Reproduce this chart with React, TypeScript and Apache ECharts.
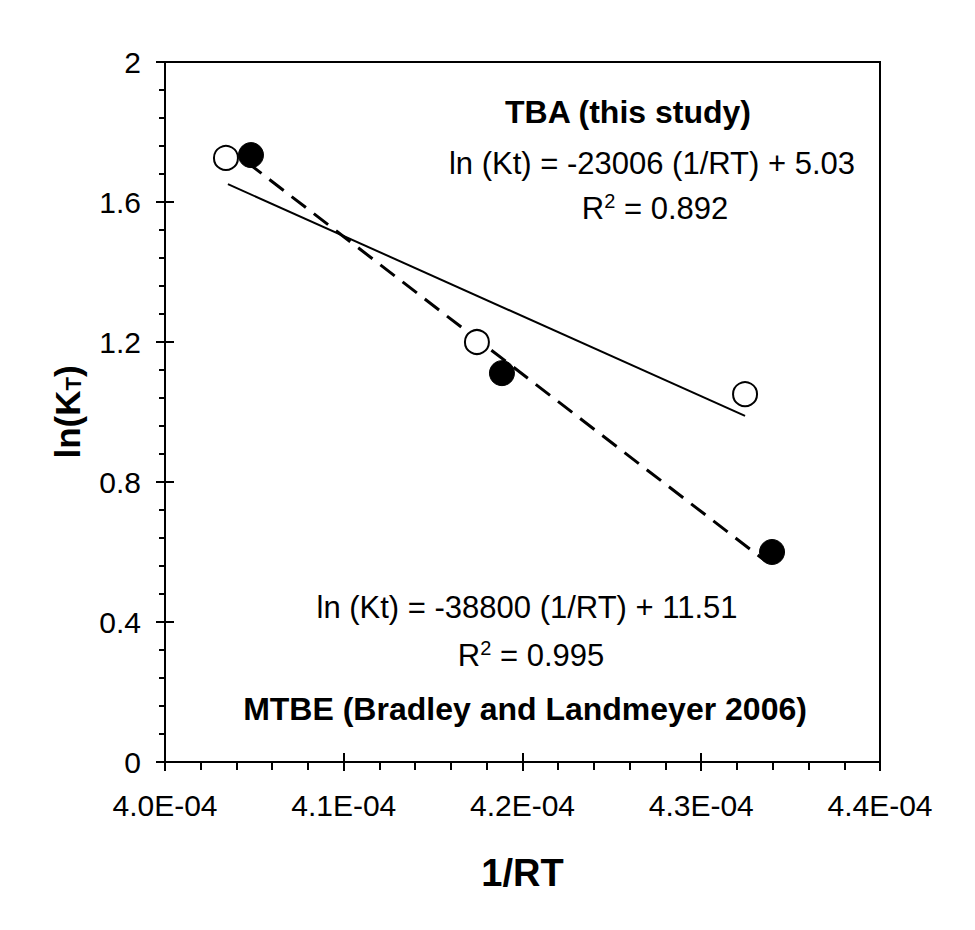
import React, { useEffect, useRef } from "react";
import * as echarts from "echarts";

// Observed points (1/RT, ln(KT))
const tbaX = [4.0341e-4, 4.1745e-4, 4.3245e-4];
const tbaY = [1.726, 1.2, 1.051];
const mtbeX = [4.0481e-4, 4.1885e-4, 4.3396e-4];
const mtbeY = [1.734, 1.111, 0.6];

// Trend line end points as drawn
const tbaFitX = [4.0352e-4, 4.3245e-4];
const tbaFitY = [1.651, 0.989];
const mtbeFitX = [4.046e-4, 4.336e-4];
const mtbeFitY = [1.713, 0.574];

const tbaTitle = "TBA (this study)";
const tbaEq = "ln (Kt) = -23006 (1/RT) + 5.03";
const tbaR2 = "0.892";
const mtbeEq = "ln (Kt) = -38800 (1/RT) + 11.51";
const mtbeR2 = "0.995";
const mtbeTitle = "MTBE (Bradley and Landmeyer 2006)";

const FONT = "'Liberation Sans', Arial, sans-serif";

const zip = (xs: number[], ys: number[]) => xs.map((x, i) => [x, ys[i]]);

const fmtX = (v: number) => {
  const s = v.toExponential(1).toUpperCase(); // e.g. 4.1E-4
  const m = s.match(/^([\d.]+)E([+-])(\d+)$/);
  if (!m) return s;
  return `${m[1]}E${m[2]}${m[3].padStart(2, "0")}`;
};

export default function App() {
  const ref = useRef<HTMLDivElement>(null);
  useEffect(() => {
    if (!ref.current) return;
    const chart = echarts.init(ref.current, undefined, { renderer: "svg" });
    const left = 165, top = 62, width = 715, height = 700;
    const xBase = { type: "value" as const, min: 4.0e-4, max: 4.4e-4, interval: 1e-5, splitLine: { show: false } };
    const yBase = { type: "value" as const, min: 0, max: 2, interval: 0.4, splitLine: { show: false } };
    const supRich = {
      sup: { fontSize: 20, fontFamily: FONT, fill: "#000", color: "#000", padding: [0, 0, 14, 0] },
    };
    const txt = (text: string, x: number, y: number, bold: boolean, size: number) => ({
      type: "text",
      x,
      y,
      style: {
        text,
        fill: "#000",
        font: `${bold ? "bold " : ""}${size}px ${FONT}`,
        align: "center",
        verticalAlign: "middle",
        rich: supRich,
      },
    });
    chart.setOption({
      animation: false,
      backgroundColor: "#fff",
      grid: {
        left,
        top,
        width,
        height,
        show: true,
        borderColor: "#000",
        borderWidth: 2,
        backgroundColor: "transparent",
      },
      xAxis: [
        {
          ...xBase,
          position: "bottom",
          axisLine: { show: true, lineStyle: { color: "#000", width: 2 } },
          axisTick: { show: true, inside: false, length: 9, lineStyle: { color: "#000", width: 2 } },
          minorTick: { show: true, splitNumber: 5, length: 8, lineStyle: { color: "#000", width: 2 } },
          axisLabel: { color: "#000", fontSize: 30, fontFamily: FONT, margin: 28, formatter: fmtX },
          name: "1/RT",
          nameLocation: "middle",
          nameGap: 92,
          nameTextStyle: { color: "#000", fontSize: 38, fontWeight: "bold", fontFamily: FONT },
        },
        {
          ...xBase,
          position: "bottom",
          axisLine: { show: false },
          axisTick: { show: true, inside: true, length: 9, lineStyle: { color: "#000", width: 2 } },
          axisLabel: { show: false },
        },
      ],
      yAxis: [
        {
          ...yBase,
          position: "left",
          axisLine: { show: true, lineStyle: { color: "#000", width: 2 } },
          axisTick: { show: true, inside: false, length: 9, lineStyle: { color: "#000", width: 2 } },
          minorTick: { show: true, splitNumber: 5, length: 6, lineStyle: { color: "#000", width: 2 } },
          axisLabel: { color: "#000", fontSize: 30, fontFamily: FONT, margin: 24 },
          name: "ln(K{sub|T})",
          nameLocation: "middle",
          nameGap: 80,
          nameRotate: 90,
          nameTextStyle: {
            color: "#000",
            fontSize: 35,
            fontWeight: "bold",
            fontFamily: FONT,
            rich: {
              sub: { fontSize: 22, fontWeight: "bold", fontFamily: FONT, color: "#000", padding: [12, 0, 0, 0] },
            },
          },
        },
        {
          ...yBase,
          position: "left",
          axisLine: { show: false },
          axisTick: { show: true, inside: true, length: 9, lineStyle: { color: "#000", width: 2 } },
          axisLabel: { show: false },
        },
      ],
      series: [
        {
          name: "TBA fit",
          type: "line",
          data: zip(tbaFitX, tbaFitY),
          showSymbol: false,
          symbol: "none",
          lineStyle: { color: "#000", width: 2 },
          z: 2,
        },
        {
          name: "MTBE fit",
          type: "line",
          data: zip(mtbeFitX, mtbeFitY),
          showSymbol: false,
          symbol: "none",
          lineStyle: { color: "#000", width: 3, type: [18, 10] },
          z: 2,
        },
        {
          name: "TBA",
          type: "scatter",
          data: zip(tbaX, tbaY),
          symbol: "circle",
          symbolSize: 24,
          itemStyle: { color: "#fff", borderColor: "#000", borderWidth: 2, opacity: 1 },
          z: 3,
        },
        {
          name: "MTBE",
          type: "scatter",
          data: zip(mtbeX, mtbeY),
          symbol: "circle",
          symbolSize: 25,
          itemStyle: { color: "#000", borderColor: "#000", borderWidth: 1, opacity: 1 },
          z: 4,
        },
      ],
      graphic: [
        txt(tbaTitle, 628, 112, true, 32),
        txt(tbaEq, 652, 163, false, 31),
        txt(`R{sup|2} = ${tbaR2}`, 655, 208, false, 31),
        txt(mtbeEq, 527, 607, false, 31),
        txt(`R{sup|2} = ${mtbeR2}`, 531, 655, false, 31),
        txt(mtbeTitle, 525, 709, true, 32),
      ],
    });
    return () => chart.dispose();
  }, []);
  return (
    <div
      ref={ref}
      style={{ position: "fixed", left: 0, top: 0, width: 975, height: 930, background: "#fff" }}
    />
  );
}
